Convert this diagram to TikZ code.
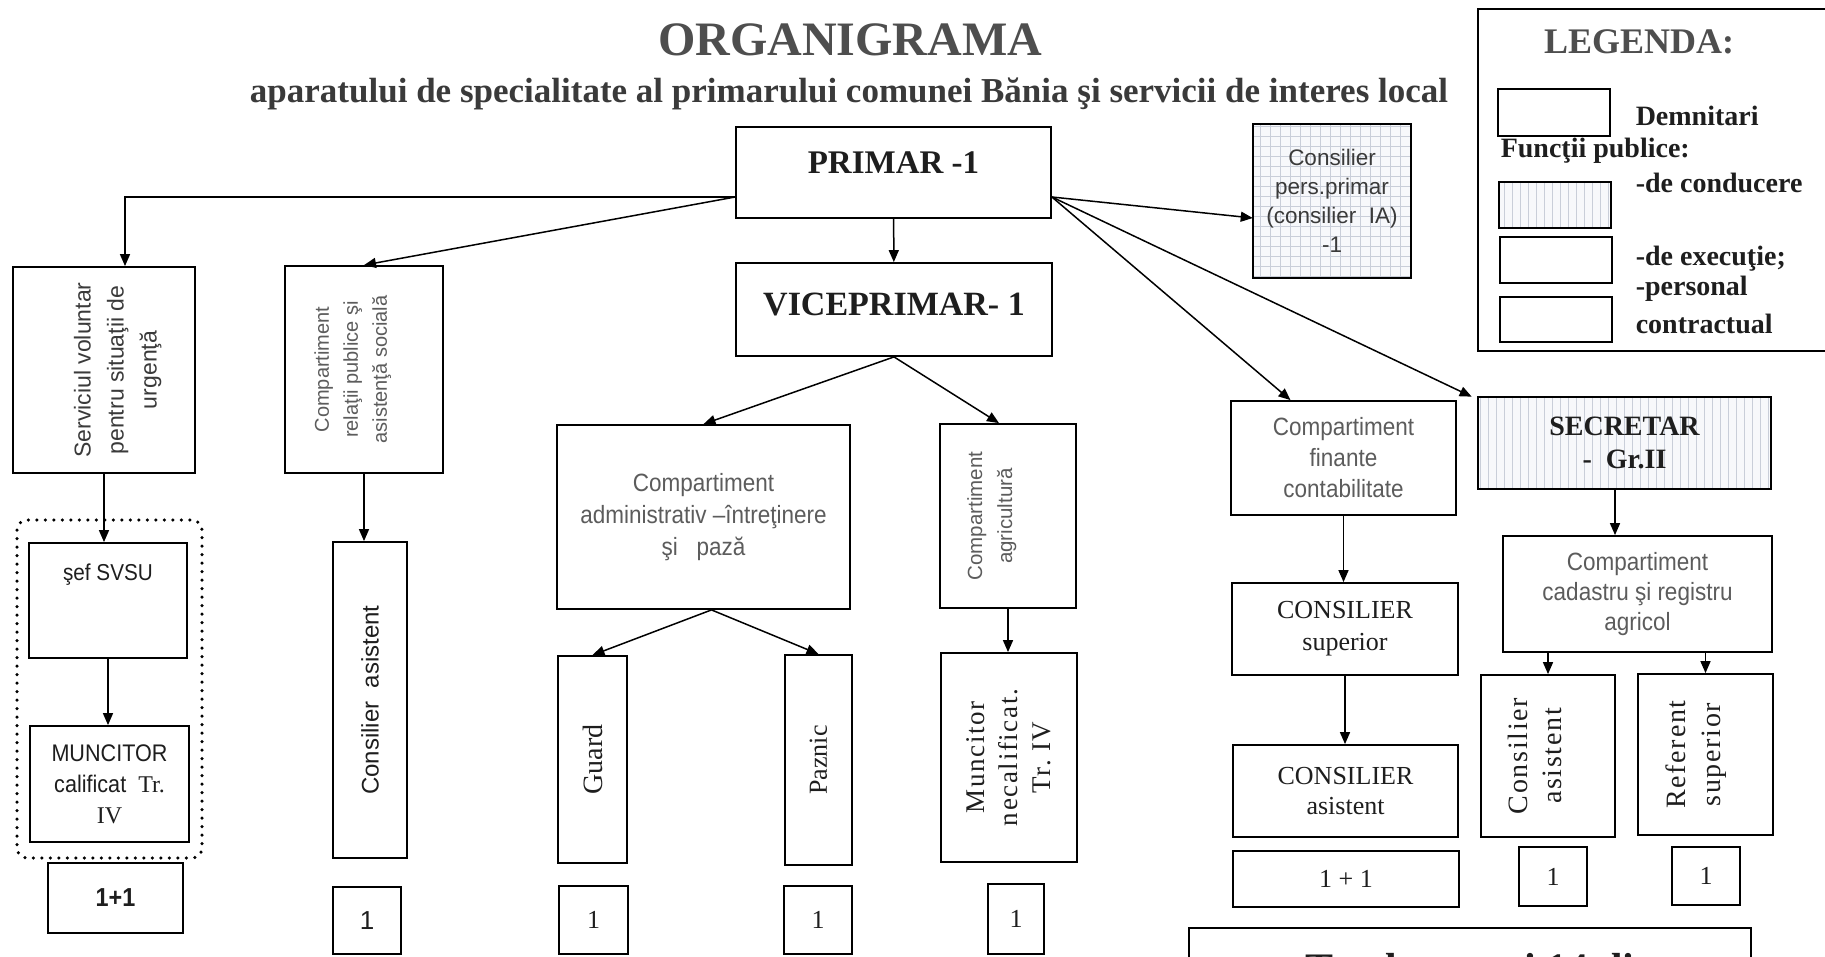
\documentclass[tikz,border=0pt]{standalone}
\usepackage{fontspec}
\setmainfont{Liberation Serif}
\setsansfont{Liberation Sans}
\newfontfamily\narrowsans[FakeStretch=0.9]{Liberation Sans}
\usetikzlibrary{arrows.meta, patterns.meta}
\definecolor{ink}{HTML}{1E1E1E}
\definecolor{titlegray}{HTML}{4E4E4E}
\definecolor{subgray}{HTML}{3A3A3A}
\definecolor{softgray}{HTML}{5C5C5C}
\definecolor{gridcol}{HTML}{C9CED9}
\definecolor{paper}{HTML}{F7F8FB}
\newcommand{\liftlines}[2]{\raisebox{#1}[\height][\depth]{\begin{tabular}{@{}c@{}}#2\end{tabular}}}

\begin{document}
\begin{tikzpicture}[x=1pt, y=-1pt, line width=1.5pt, >={Triangle[length=12pt, width=10pt]},
        box/.style = {draw, line width=1.8pt, inner sep=0pt, align=center, text=ink},
        vbox/.style = {box, rotate=90},
        lbl/.style = {inner sep=0pt, text=ink},
        sz/.style 2 args = {minimum width=#1pt, minimum height=#2pt},
        rmf/.style 2 args = {font=\rmfamily\fontsize{#1pt}{#2pt}\selectfont},
        rms/.style 2 args = {font=\rmfamily\addfontfeature{LetterSpace=6}\fontsize{#1pt}{#2pt}\selectfont},
        rmb/.style 2 args = {font=\rmfamily\bfseries\fontsize{#1pt}{#2pt}\selectfont},
        sff/.style 2 args = {font=\sffamily\fontsize{#1pt}{#2pt}\selectfont},
        nar/.style 2 args = {font=\narrowsans\fontsize{#1pt}{#2pt}\selectfont},
        narb/.style 2 args = {font=\narrowsans\bfseries\fontsize{#1pt}{#2pt}\selectfont},
        gridfill/.style = {preaction={fill=paper}, pattern={Hatch[distance=10pt, angle=0, line width=0.5pt]}, pattern color=gridcol},
        stripes/.style = {preaction={fill=paper}, pattern={Lines[distance=8pt, angle=90, line width=0.7pt]}, pattern color=gridcol},
        dotframe/.style = {line width=3.5pt, dash pattern=on 0pt off 8.5pt, line cap=round, rounded corners=10pt}]
    \useasboundingbox (0,0) rectangle (1825,956);
    \clip (0,0) rectangle (1825,956);
    \fill[white] (0,0) rectangle (1825,956);

    \node[lbl, rmb={48}{52}, text=titlegray, anchor=base] (title) at (850,55) {ORGANIGRAMA};
    \node[lbl, rmb={35}{38}, text=subgray, anchor=base] (subtitle) at (849,102) {aparatului de specialitate al primarului comunei Bănia şi servicii de interes local};

    \node[box, sz={315}{91}, rmb={33}{36}, text height=46pt, text depth=45pt] (primar) at (893.5,172.5) {PRIMAR -1};
    \node[box, sz={316}{93}, rmb={34}{37}, text height=52pt, text depth=41pt] (vice) at (894,309.5) {VICEPRIMAR- 1};
    \node[box, gridfill, sz={158}{154}, sff={22.5}{29}, text=subgray] (cons) at (1332,201) {Consilier\\pers.primar\\(consilier~~IA)\\-1};

    \node[vbox, sz={206}{182}, sff={23}{33}, text=subgray] (serv) at (104,370) {\liftlines{-13pt}{Serviciul voluntar\\pentru situaţii de\\urgenţă}};
    \node[vbox, sz={207}{158}, sff={20}{29}, text=softgray] (rel) at (364,369.5) {\liftlines{12pt}{Compartiment\\relaţii publice şi\\asistenţă socială}};
    \node[box, sz={293}{184}, nar={25}{32}, text=softgray] (admin) at (703.5,517) {Compartiment\\administrativ –întreţinere\\şi~~~pază};
    \node[vbox, sz={184}{136}, sff={20.5}{30}, text=softgray] (agr) at (1008,516) {\liftlines{17pt}{Compartiment\\agricultură}};
    \node[box, sz={225}{114}, nar={25}{31}, text=softgray] (fin) at (1343.5,458) {Compartiment\\finante\\contabilitate};
    \node[box, stripes, sz={293}{92}, rmb={28}{33}] (sec) at (1624.5,443) {SECRETAR\\-~~Gr.II};

    \node[box, sz={158}{115}, nar={23}{27}, text height=37pt, text depth=78pt] (sef) at (108,600.5) {şef SVSU};
    \node[box, sz={159}{116}, nar={24}{31}] (munc) at (109.5,784) {MUNCITOR\\calificat~~{\rmfamily Tr.}\\{\rmfamily IV}};
    \node[box, sz={135}{70}, narb={26}{30}] (one1) at (115.5,898) {1+1};
    \draw[dotframe] (17,520) rectangle (202,858);

    \node[vbox, sz={316}{74}, sff={24}{28}] (cas) at (370,700) {Consilier~~asistent};
    \node[vbox, sz={207}{69}, rmf={28}{32}] (guard) at (592.5,759.5) {Guard};
    \node[vbox, sz={210}{67}, rmf={26}{30}] (paz) at (818.5,760) {Paznic};
    \node[vbox, sz={209}{136}, rms={27}{33}] (mnec) at (1009,757.5) {Muncitor\\necalificat.\\Tr.~IV};

    \node[box, sz={226}{92}, rmf={26}{32}] (csup) at (1345,629) {CONSILIER\\superior};
    \node[box, sz={225}{92}, rmf={26}{30}] (cas3) at (1345.5,791) {CONSILIER\\asistent};
    \node[box, sz={226}{56}, rmf={26}{30}] (tot2) at (1346,879) {1 + 1};

    \node[box, sz={269}{116}, nar={25}{30}, text=softgray] (cad) at (1637.5,594) {Compartiment\\cadastru şi registru\\agricol};
    \node[vbox, sz={162}{134}, rms={28}{34}] (cas2) at (1548,756) {\liftlines{10pt}{Consilier\\asistent}};
    \node[vbox, sz={161}{135}, rms={28}{35}] (ref) at (1705.5,754.5) {\liftlines{10pt}{Referent\\superior}};
    \node[box, sz={68}{59}, rmf={26}{30}] (n1) at (1553,876.5) {1};
    \node[box, sz={68}{58}, rmf={26}{30}] (n2) at (1706,876) {1};

    \node[box, sz={68}{67}, sff={26}{30}] (one2) at (367,920.5) {1};
    \node[box, sz={69}{68}, rmf={26}{30}] (one3) at (593.5,920) {1};
    \node[box, sz={68}{68}, rmf={26}{30}] (one4) at (818,920) {1};
    \node[box, sz={56}{70}, rmf={26}{30}] (one5) at (1016,919) {1};

    \node[box, sz={562}{82}, rmb={42}{46}, text height=54pt, text depth=28pt] (total) at (1470,969) {Total posturi 14 di};

    \draw[line width=1.8pt] (1478,9) rectangle (1830,351);
    \node[lbl, rmb={36}{40}, text=titlegray, anchor=base] (legtitle) at (1639,53) {LEGENDA:};
    \node[box, sz={112}{47}] (leg1) at (1554,112.5) {};
    \node[lbl, rmb={28}{30}, anchor=base west] (legdem) at (1635,125) {Demnitari};
    \node[lbl, rmb={28}{30}, anchor=base west] (legfp) at (1500,157) {Funcţii publice:};
    \node[box, stripes, sz={112}{46}] (leg2) at (1555,205) {};
    \node[lbl, rmb={28}{30}, anchor=base west] (legcond) at (1635,192) {-de conducere};
    \node[box, sz={112}{46}] (leg3) at (1556,260) {};
    \node[lbl, rmb={28}{30}, anchor=base west] (legexe) at (1635,265) {-de execuţie;};
    \node[lbl, rmb={28}{30}, anchor=base west] (legpers) at (1635,295) {-personal};
    \node[box, sz={112}{45}] (leg4) at (1556,319.5) {};
    \node[lbl, rmb={28}{30}, anchor=base west] (legcontr) at (1635,333) {contractual};

    \draw[->] ([yshift=-24.5pt]primar.west) -| ([xshift=21pt]serv.east);
    \draw[->] ([yshift=-24.5pt]primar.west) -- (rel.east);
    \draw[->] (primar) -- (vice);
    \draw[->] ([yshift=-24.5pt]primar.east) -- ([yshift=-17pt]cons.west);
    \draw[->] ([yshift=-24.5pt]primar.east) -- ([xshift=-53pt]fin.north);
    \draw[->] ([yshift=-24.5pt]primar.east) -- ([xshift=-6pt]sec.north west);
    \draw[->] (vice.south) -- (admin.north);
    \draw[->] (vice.south) -- ([xshift=-9pt]agr.east);
    \draw[->] (serv.west) -- (serv.west |- sef.north);
    \draw[->] (sef.south) -- (sef.south |- munc.north);
    \draw[->] (rel.west) -- (rel.west |- cas.east);
    \draw[->] ([xshift=8pt]admin.south) -- (guard.east);
    \draw[->] ([xshift=8pt]admin.south) -- (paz.east);
    \draw[->] (agr.west) -- (agr.west |- mnec.east);
    \draw[->] (fin.south) -- (fin.south |- csup.north);
    \draw[->] (csup.south) -- (csup.south |- cas3.north);
    \draw[->] ([xshift=-9.5pt]sec.south) -- ([xshift=-9.5pt]sec.south |- cad.north);
    \draw[->] (cas2.east |- cad.south) -- (cas2.east);
    \draw[->] (ref.east |- cad.south) -- (ref.east);
\end{tikzpicture}
\end{document}
